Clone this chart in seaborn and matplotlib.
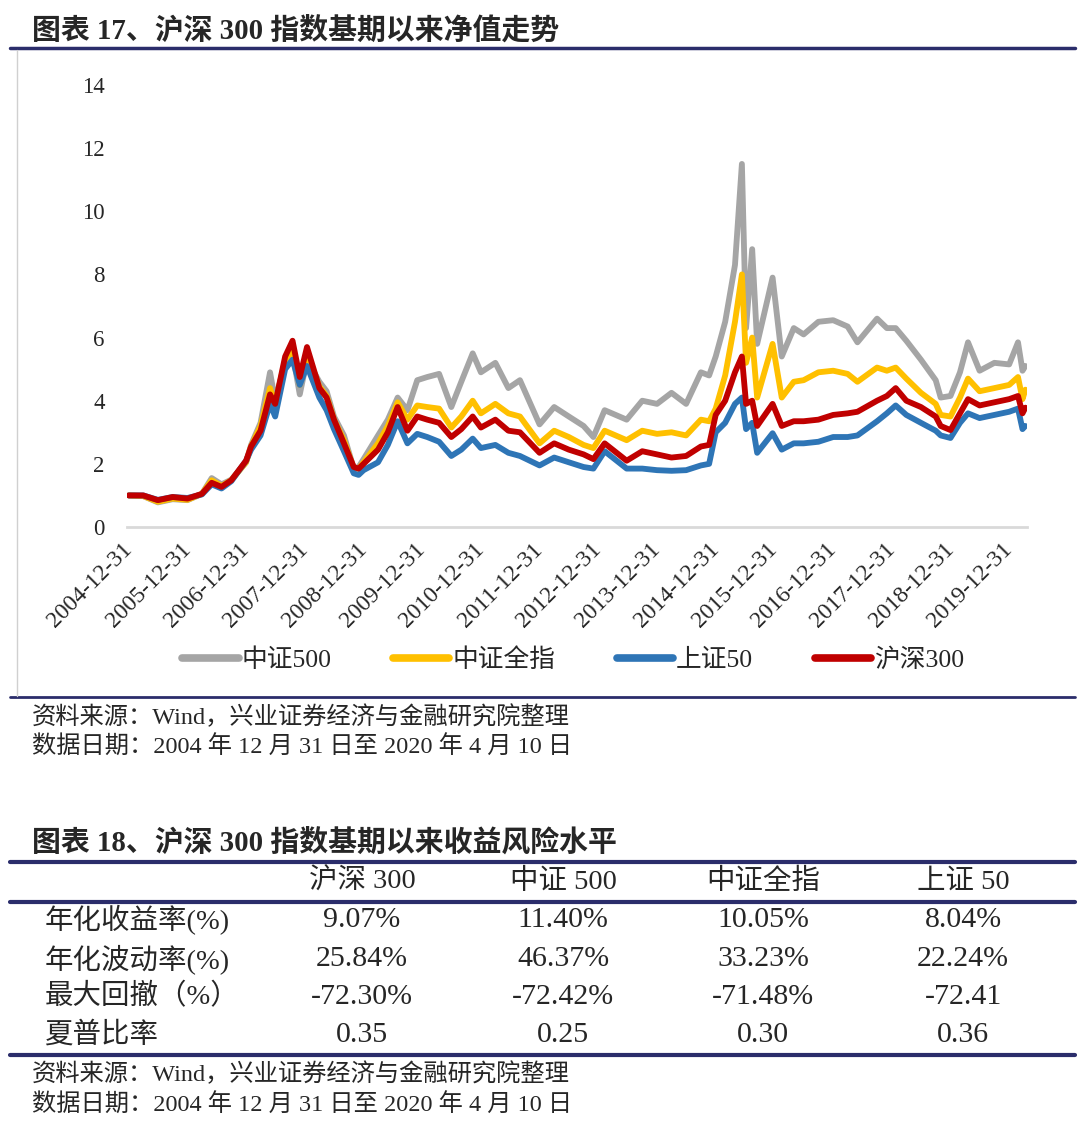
import matplotlib
matplotlib.use("Agg")
import matplotlib.pyplot as plt
from matplotlib.lines import Line2D
import pandas as pd
import seaborn as sns

# values (net value, base 2004-12-31 = 1)
dates = [
    "2004-12-31", "2005-03-31", "2005-06-30", "2005-09-30", "2005-12-31",
    "2006-03-31", "2006-05-31", "2006-07-31", "2006-09-30", "2006-12-31",
    "2007-01-31", "2007-03-31", "2007-05-29", "2007-06-30", "2007-08-31",
    "2007-10-16", "2007-11-30", "2008-01-14", "2008-03-31", "2008-05-15",
    "2008-06-30", "2008-08-31", "2008-10-31", "2008-11-30", "2008-12-31",
    "2009-03-31", "2009-05-31", "2009-07-31", "2009-09-30", "2009-11-30",
    "2010-01-31", "2010-04-15", "2010-06-30", "2010-08-31", "2010-11-10",
    "2010-12-31", "2011-03-31", "2011-06-20", "2011-08-31", "2011-12-31",
    "2012-03-31", "2012-06-30", "2012-09-30", "2012-11-30", "2013-02-08",
    "2013-06-25", "2013-09-30", "2013-12-31", "2014-03-31", "2014-06-30",
    "2014-09-30", "2014-11-20", "2014-12-31", "2015-02-28", "2015-04-30",
    "2015-06-12", "2015-07-08", "2015-08-15", "2015-09-15", "2015-12-20",
    "2016-02-15", "2016-04-30", "2016-06-30", "2016-09-30", "2016-12-31",
    "2017-03-31", "2017-05-31", "2017-09-30", "2017-11-30", "2018-01-24",
    "2018-03-31", "2018-06-30", "2018-09-30", "2018-10-31", "2018-12-31",
    "2019-02-28", "2019-04-19", "2019-06-30", "2019-09-30", "2019-12-31",
    "2020-02-24", "2020-03-23", "2020-04-10",
]
zz500 = [
    1.00, 0.98, 0.78, 0.88, 0.85, 1.05, 1.55, 1.35, 1.50, 2.05,
    2.60, 3.30, 4.90, 4.00, 5.20, 5.50, 4.20, 5.30, 4.60, 4.30,
    3.50, 2.90, 1.85, 1.90, 2.15, 2.90, 3.40, 4.10, 3.70, 4.65,
    4.75, 4.85, 3.80, 4.60, 5.50, 4.90, 5.20, 4.40, 4.65, 3.25,
    3.80, 3.50, 3.20, 2.85, 3.70, 3.40, 4.00, 3.90, 4.25, 3.90,
    4.90, 4.80, 5.40, 6.50, 8.30, 11.50, 6.30, 8.80, 5.80, 7.90,
    5.40, 6.30, 6.10, 6.50, 6.55, 6.35, 5.85, 6.60, 6.30, 6.30,
    5.90, 5.30, 4.65, 4.10, 4.15, 4.90, 5.85, 4.95, 5.20, 5.15,
    5.85, 4.95, 5.10,
]
zzqz = [
    1.00, 0.98, 0.80, 0.90, 0.86, 1.05, 1.48, 1.30, 1.48, 2.05,
    2.55, 3.20, 4.40, 3.90, 5.30, 5.60, 4.50, 5.45, 4.45, 4.15,
    3.40, 2.75, 1.85, 1.85, 2.05, 2.65, 3.20, 3.95, 3.40, 3.85,
    3.80, 3.75, 3.15, 3.50, 4.00, 3.60, 3.90, 3.60, 3.50, 2.65,
    3.05, 2.85, 2.60, 2.50, 3.05, 2.75, 3.05, 2.95, 3.00, 2.90,
    3.40, 3.35, 3.75, 4.80, 6.50, 8.00, 5.20, 6.00, 4.10, 5.80,
    4.10, 4.60, 4.65, 4.90, 4.95, 4.85, 4.60, 5.05, 4.95, 5.05,
    4.70, 4.25, 3.90, 3.55, 3.50, 4.10, 4.70, 4.30, 4.40, 4.50,
    4.75, 4.05, 4.35,
]
sz50 = [
    1.00, 1.00, 0.86, 0.95, 0.92, 1.03, 1.35, 1.22, 1.45, 2.10,
    2.45, 2.90, 3.90, 3.50, 5.00, 5.30, 4.50, 5.10, 4.10, 3.70,
    3.10, 2.40, 1.70, 1.65, 1.80, 2.05, 2.60, 3.35, 2.65, 2.95,
    2.85, 2.70, 2.25, 2.45, 2.80, 2.50, 2.60, 2.35, 2.25, 1.95,
    2.20, 2.05, 1.90, 1.85, 2.40, 1.85, 1.85, 1.80, 1.78, 1.80,
    1.95, 2.00, 3.00, 3.30, 3.90, 4.10, 3.10, 3.30, 2.35, 2.97,
    2.45, 2.65, 2.65, 2.70, 2.85, 2.85, 2.90, 3.35, 3.60, 3.85,
    3.55, 3.30, 3.05, 2.90, 2.82, 3.30, 3.60, 3.45, 3.55, 3.65,
    3.75, 3.10, 3.20,
]
hs300 = [
    1.00, 1.00, 0.85, 0.95, 0.90, 1.05, 1.40, 1.27, 1.48, 2.10,
    2.55, 3.05, 4.20, 3.90, 5.40, 5.90, 4.75, 5.70, 4.40, 4.10,
    3.40, 2.65, 1.90, 1.85, 2.00, 2.45, 3.00, 3.80, 3.05, 3.50,
    3.40, 3.30, 2.85, 3.10, 3.50, 3.15, 3.40, 3.05, 3.00, 2.35,
    2.65, 2.45, 2.30, 2.15, 2.65, 2.10, 2.40, 2.30, 2.20, 2.25,
    2.55, 2.60, 3.55, 4.00, 4.90, 5.40, 3.90, 4.00, 3.20, 3.90,
    3.20, 3.35, 3.35, 3.40, 3.55, 3.60, 3.65, 4.00, 4.15, 4.40,
    4.00, 3.80, 3.50, 3.20, 3.07, 3.60, 4.05, 3.85, 3.95, 4.05,
    4.15, 3.60, 3.78,
]

series_names = ["中证500", "中证全指", "上证50", "沪深300"]
series_colors = ["#A5A5A5", "#FFC000", "#2E75B6", "#C00000"]
tick_years = list(range(2004, 2020))

table_cols = ["沪深 300", "中证 500", "中证全指", "上证 50"]
table_rows = ["年化收益率(%)", "年化波动率(%)", "最大回撤（%）", "夏普比率"]
ann_return = ["9.07%", "11.40%", "10.05%", "8.04%"]
ann_vol = ["25.84%", "46.37%", "33.23%", "22.24%"]
max_dd = ["-72.30%", "-72.42%", "-71.48%", "-72.41"]
sharpe = ["0.35", "0.25", "0.30", "0.36"]

source_line = "资料来源：Wind，兴业证券经济与金融研究院整理"
date_line = "数据日期：2004 年 12 月 31 日至 2020 年 4 月 10 日"

sns.set_style("white")
plt.rcParams["font.family"] = ["Liberation Serif", "Noto Sans CJK SC"]
plt.rcParams["axes.unicode_minus"] = False

W, H = 1080, 1123
navy = "#2B2D6B"


def fx(px):
    return px / W


def fy(py):
    return 1 - py / H


df = pd.DataFrame({
    "date": pd.to_datetime(dates * 4),
    "value": zz500 + zzqz + sz50 + hs300,
    "series": sum([[n] * len(dates) for n in series_names], []),
})

fig = plt.figure(figsize=(W / 100, H / 100), dpi=100)
ax = fig.add_axes([fx(127), fy(527), fx(1027) - fx(127), fy(85) - fy(527)])

sns.lineplot(data=df, x="date", y="value", hue="series", hue_order=series_names,
             palette=dict(zip(series_names, series_colors)), linewidth=4.2,
             legend=False, ax=ax)

ax.set_ylim(0, 14)
ax.set_yticks(range(0, 15, 2))
ax.set_xlim(pd.Timestamp("2004-12-20"), pd.Timestamp("2020-04-20"))
ticks = pd.to_datetime([f"{y}-12-31" for y in tick_years])
ax.set_xticks(ticks)
ax.set_xticklabels([f"{y}-12-31" for y in tick_years], rotation=45,
                   ha="right", va="center", rotation_mode="anchor")
ax.tick_params(axis="x", length=0, pad=14, labelsize=17)
ax.tick_params(axis="y", length=0, pad=16, labelsize=16.5)
ax.set_xlabel("")
ax.set_ylabel("")
for s in ["left", "right", "top"]:
    ax.spines[s].set_visible(False)
ax.spines["bottom"].set_color("#D9D9D9")
ax.spines["bottom"].set_linewidth(2)

handles = [Line2D([], [], color=c, lw=5.5) for c in series_colors]
fig.legend(handles, series_names, loc="center", bbox_to_anchor=(fx(573), fy(660)),
           ncol=4, frameon=False, fontsize=18.5, handlelength=2.2,
           handletextpad=0.1, columnspacing=2.4)

# chart title and frame
fig.text(fx(32), fy(30), "图表 17、沪深 300 指数基期以来净值走势", fontsize=20.8,
         fontweight="bold", va="center", ha="left")
fig.add_artist(Line2D([fx(10), fx(1075)], [fy(48), fy(48)], color=navy, lw=2.5))
fig.add_artist(Line2D([fx(10), fx(1075)], [fy(697), fy(697)], color=navy, lw=2))
fig.add_artist(Line2D([fx(17), fx(17)], [fy(50), fy(696)], color="#D0D0D0", lw=1))
fig.text(fx(32), fy(717), source_line, fontsize=17.5, va="center", ha="left")
fig.text(fx(32), fy(747), date_line, fontsize=17.5, va="center", ha="left")

# table
fig.text(fx(32), fy(842), "图表 18、沪深 300 指数基期以来收益风险水平", fontsize=20.8,
         fontweight="bold", va="center", ha="left")
for py in [862, 902, 1055]:
    fig.add_artist(Line2D([fx(10), fx(1075)], [fy(py), fy(py)], color=navy, lw=3))
col_x = [362, 563, 763, 963]
for cx, name in zip(col_x, table_cols):
    fig.text(fx(cx), fy(882), name, fontsize=20.5, va="center", ha="center")
row_y = [920, 959, 997, 1035]
for ry, label, vals in zip(row_y, table_rows, [ann_return, ann_vol, max_dd, sharpe]):
    fig.text(fx(45), fy(ry), label, fontsize=20.5, va="center", ha="left")
    for cx, v in zip(col_x, vals):
        fig.text(fx(cx), fy(ry), v, fontsize=21.5, va="center", ha="center")
fig.text(fx(32), fy(1074), source_line, fontsize=17.5, va="center", ha="left")
fig.text(fx(32), fy(1105), date_line, fontsize=17.5, va="center", ha="left")

fig.savefig("out.png", dpi=100)
